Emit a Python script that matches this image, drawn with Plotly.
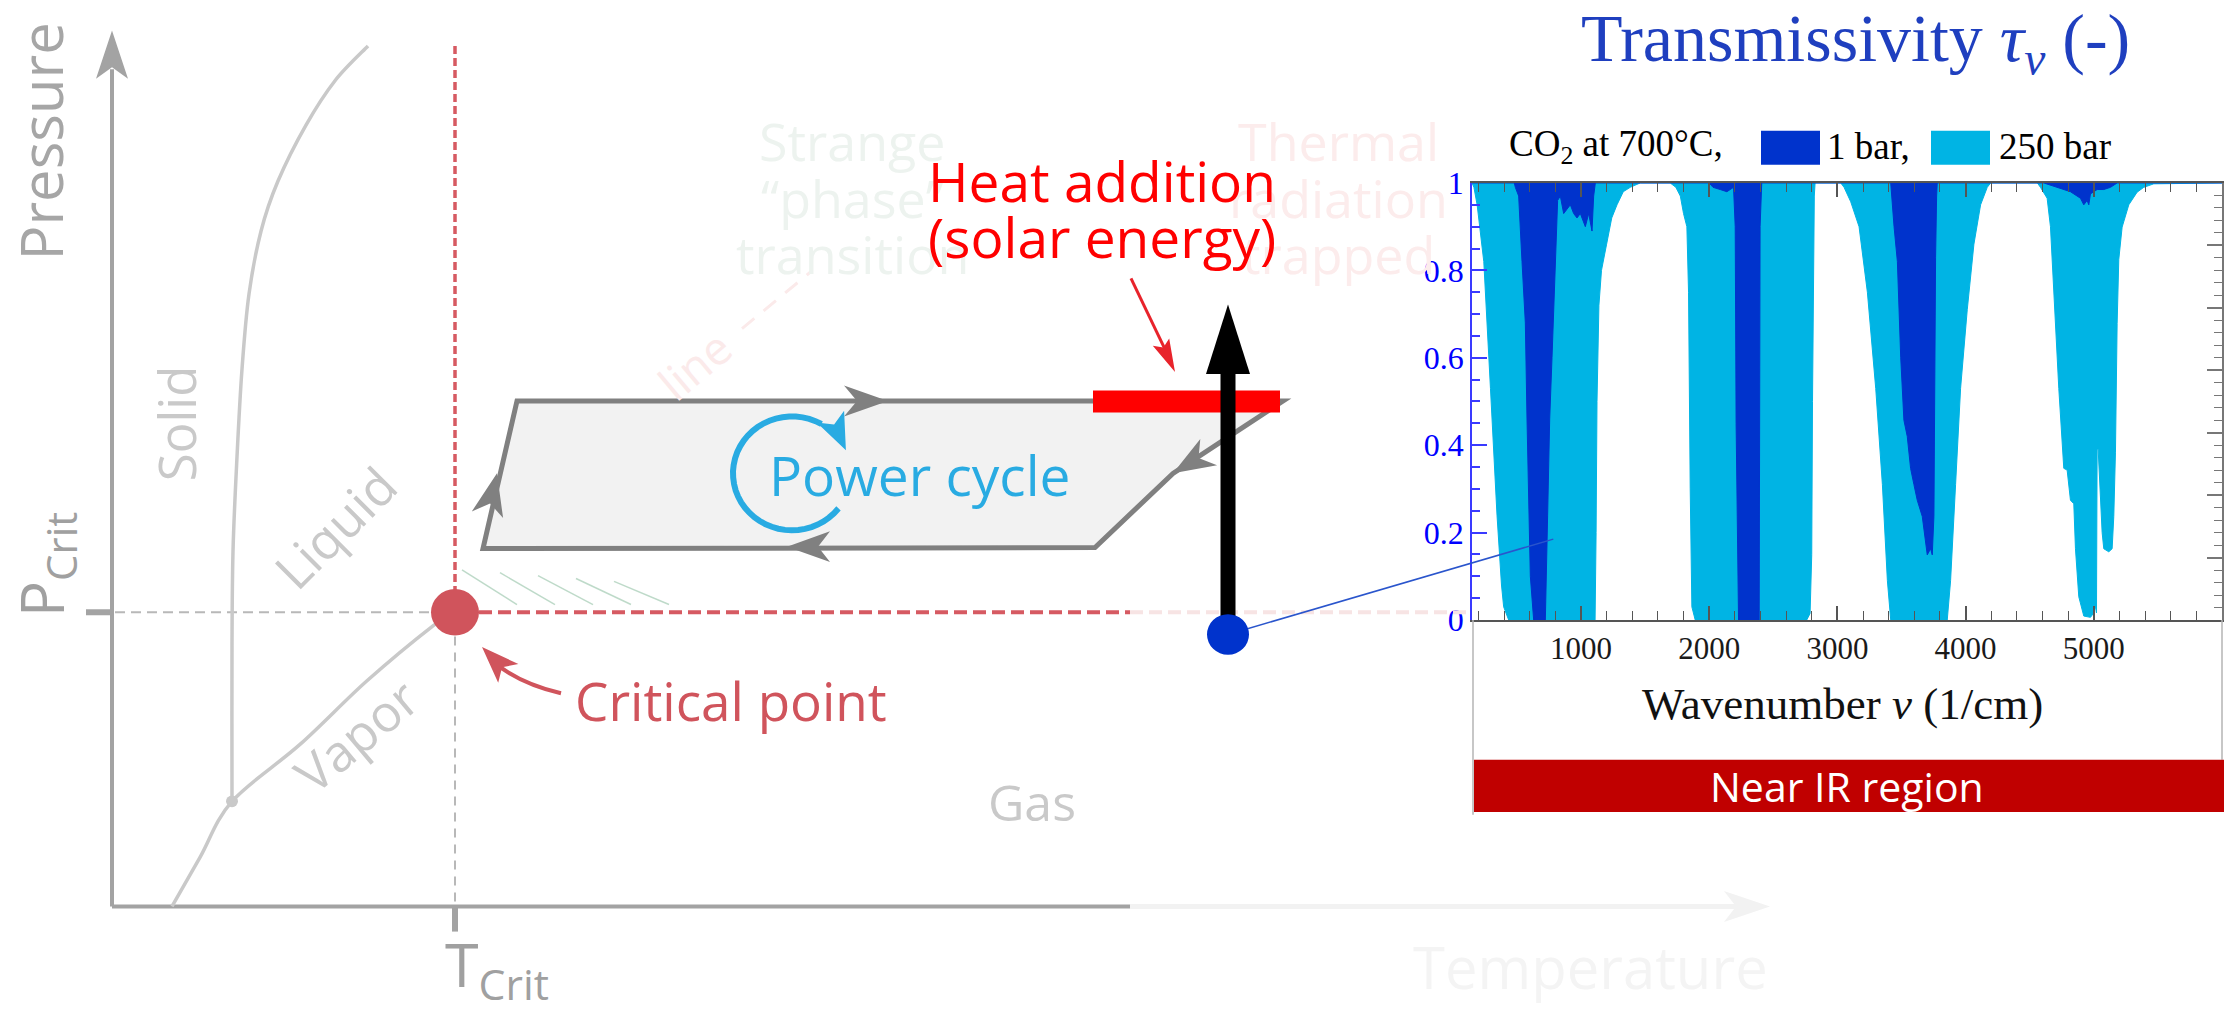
import math
import plotly.graph_objects as go

W, H = 2233, 1020

# ---------------- spectral data ----------------
wavenumber_250bar = [150, 165, 190, 242, 294, 345, 380, 397, 436, 1110, 1118, 1125, 1140, 1160, 1200, 1240, 1281, 1330, 1384, 1462,
                     1696, 1740, 1775, 1800, 1826, 1839, 1852, 1865, 1891, 2761, 2787, 2800, 2806, 2813, 2820, 2826,
                     3026, 3052, 3104, 3169, 3234, 3299, 3351, 3390, 3416, 3857, 3883, 3922, 3961, 4013, 4065, 4117, 4169, 4195,
                     4560, 4584, 4636, 4662, 4688, 4727, 4766, 4792, 4818, 4844, 4857, 4883, 4922, 4974, 5000, 5013, 5021, 5026,
                     5034, 5047, 5065, 5078, 5117, 5143, 5156, 5169, 5182, 5195, 5221, 5273, 5338, 5390, 5468, 6000]
tau_250bar = [1.0, 0.99, 0.95, 0.82, 0.53, 0.24, 0.08, 0.03, 0.0, 0.0, 0.2, 0.5, 0.72, 0.8, 0.86, 0.92, 0.95, 0.98, 0.99, 1.0,
              1.0, 0.99, 0.97, 0.93, 0.9, 0.75, 0.3, 0.03, 0.0, 0.0, 0.015, 0.15, 0.5, 0.9, 0.97, 1.0,
              1.0, 0.99, 0.957, 0.9, 0.75, 0.53, 0.31, 0.09, 0.0, 0.0, 0.09, 0.31, 0.53, 0.71, 0.86, 0.95, 0.99, 1.0,
              1.0, 0.99, 0.965, 0.9, 0.75, 0.53, 0.347, 0.343, 0.274, 0.266, 0.163, 0.053, 0.009, 0.006, 0.016, 0.031, 0.016, 0.391,
              0.391, 0.31, 0.2, 0.163, 0.156, 0.163, 0.237, 0.384, 0.678, 0.825, 0.899, 0.95, 0.979, 0.99, 0.998, 1.0]

wavenumber_1bar = [150, 480, 488, 514, 540, 566, 579, 592, 605, 631, 722, 740, 756, 774, 787, 800, 813, 818, 839, 865,
                   891, 917, 943, 969, 995, 1034, 1060, 1086, 1099, 1112,
                   2000, 2030, 2086, 2138, 2190, 2203, 2210, 2229, 2390, 2392, 2397, 2410,
                   3416, 3442, 3468, 3494, 3519, 3545, 3571, 3597, 3623, 3662, 3701, 3727, 3740, 3753, 3758, 3766, 3774, 3779,
                   4610, 4714, 4818, 4896, 4922, 4948, 4961, 4974, 5026, 5078, 5130, 5182, 6000]
tau_1bar = [1.0, 1.0, 0.99, 0.97, 0.82, 0.68, 0.46, 0.24, 0.1, 0.0, 0.0, 0.24, 0.46, 0.6, 0.71, 0.82, 0.94, 0.96, 0.97, 0.93,
            0.94, 0.95, 0.93, 0.92, 0.93, 0.9, 0.93, 0.89, 0.97, 1.0,
            1.0, 0.99, 0.985, 0.98, 0.99, 0.9, 0.45, 0.0, 0.0, 0.45, 0.9, 1.0,
            1.0, 0.9, 0.82, 0.6, 0.457, 0.42, 0.347, 0.31, 0.274, 0.237, 0.149, 0.163, 0.149, 0.237, 0.6, 0.83, 0.97, 1.0,
            1.0, 0.99, 0.98, 0.965, 0.95, 0.96, 0.95, 0.975, 0.985, 0.985, 0.99, 1.0, 1.0]

x_tick_values = [1000, 2000, 3000, 4000, 5000]
x_tick_labels = ["1000", "2000", "3000", "4000", "5000"]
y_tick_values = [0, 0.2, 0.4, 0.6, 0.8, 1.0]
y_tick_labels = ["0", "0.2", "0.4", "0.6", "0.8", "1"]
right_tick_values = [k / 7 for k in range(8)]
x_range = [150, 6000]
probe_point = (784, 0.185)   # where the connector meets the spectrum

# ---------------- diagram geometry (page pixels, y down) ----------------
plot_box = (1472, 171, 2222, 624)   # left, top, right, bottom of spectrum axes
axis_origin = (112, 921)
y_arrow_tip = 13
x_axis_solid_end = 1130
x_arrow_tip = 1770
crit_point = (455, 616)
crit_r = 24
triple_point = (232, 812)
melting_x = [232, 232, 233, 237, 242, 249, 261, 278, 306, 335, 368]
melting_y = [812, 651, 553, 455, 364, 286, 221, 169, 111, 65, 29]
vapor_x = [172, 200, 232, 300, 367, 433, 455]
vapor_y = [921, 870, 812, 753, 687, 630, 616]
cycle_x = [483, 517, 1283, 1233, 1173, 1095]
cycle_y = [550, 397, 397, 431, 472, 549]
heat_bar = (1093, 386, 1280, 409)
probe_dot = (1228, 639)
probe_r = 21
black_tip_y = 297
black_head_base = 369
icon_center = (792, 472)
icon_r = 59

GRAY_AX = "#a3a3a3"
PH_TXT = "#c9c9c9"
CRIT = "#d0545c"
CYCLE = "#808080"
SKY = "#29abe2"
DARK = "#0033cc"
LIGHT = "#00b4e4"
SANS = "Open Sans"
SERIF = "Liberation Serif"


def fmt(p):
    return f"{p[0]:.1f},{p[1]:.1f}"


def poly_path(pts, closed=True):
    s = "M " + " L ".join(fmt(p) for p in pts)
    return s + (" Z" if closed else "")


def smooth_path(xs, ys):
    pts = list(zip(xs, ys))
    d = "M " + fmt(pts[0])
    for i in range(len(pts) - 1):
        p0 = pts[i - 1] if i > 0 else pts[i]
        p1, p2 = pts[i], pts[i + 1]
        p3 = pts[i + 2] if i + 2 < len(pts) else p2
        c1 = (p1[0] + (p2[0] - p0[0]) / 6, p1[1] + (p2[1] - p0[1]) / 6)
        c2 = (p2[0] - (p3[0] - p1[0]) / 6, p2[1] - (p3[1] - p1[1]) / 6)
        d += f" C {fmt(c1)} {fmt(c2)} {fmt(p2)}"
    return d


def chevron(tip, direction, length, half_w, notch):
    dx, dy = direction
    n = math.hypot(dx, dy)
    dx, dy = dx / n, dy / n
    px, py = -dy, dx
    bx, by = tip[0] - length * dx, tip[1] - length * dy
    w1 = (bx + half_w * px, by + half_w * py)
    w2 = (bx - half_w * px, by - half_w * py)
    nt = (tip[0] - (length - notch) * dx, tip[1] - (length - notch) * dy)
    return poly_path([tip, w1, nt, w2])


shapes = []


def add_path(path, color=None, width=0, fill=None, dash=None):
    line = dict(color=color if color else "rgba(0,0,0,0)", width=width)
    if dash:
        line["dash"] = dash
    shapes.append(dict(type="path", path=path, xref="x2", yref="y2", layer="above",
                       line=line, fillcolor=fill if fill else "rgba(0,0,0,0)"))


def add_line(p, q, color, width, dash=None):
    line = dict(color=color, width=width)
    if dash:
        line["dash"] = dash
    shapes.append(dict(type="line", x0=p[0], y0=p[1], x1=q[0], y1=q[1], xref="x2", yref="y2",
                       layer="above", line=line))


def add_rect(x0, y0, x1, y1, fill, color=None, width=0):
    shapes.append(dict(type="rect", x0=x0, y0=y0, x1=x1, y1=y1, xref="x2", yref="y2", layer="above",
                       fillcolor=fill, line=dict(color=color if color else "rgba(0,0,0,0)", width=width)))


def add_circle(c, r, fill):
    shapes.append(dict(type="circle", x0=c[0] - r, y0=c[1] - r, x1=c[0] + r, y1=c[1] + r, xref="x2", yref="y2",
                       layer="above", fillcolor=fill, line=dict(color=fill, width=0)))


# faint background pieces
add_line((x_axis_solid_end, axis_origin[1]), (x_arrow_tip - 25, axis_origin[1]), "#f2f2f2", 5)
add_path(chevron((x_arrow_tip, axis_origin[1]), (1, 0), 46, 16, 12), fill="#f2f2f2")
add_line((x_axis_solid_end, crit_point[1]), (1470, crit_point[1]), "#f7e4e4", 4, "13px,6px")
add_line((742, 322), (812, 262), "#fbeaea", 3, "16px,12px")
for k in range(5):
    x0 = 462 + k * 38
    add_line((x0, 572 + k * 3), (x0 + 55, 608), "rgba(70,150,100,0.35)", 1.5)

# phase diagram axes
add_line(axis_origin, (axis_origin[0], y_arrow_tip + 40), GRAY_AX, 4)
add_path(chevron((axis_origin[0], y_arrow_tip), (0, -1), 50, 16, 12), fill=GRAY_AX)
add_line(axis_origin, (x_axis_solid_end, axis_origin[1]), GRAY_AX, 4)
add_line((86, crit_point[1]), (axis_origin[0], crit_point[1]), GRAY_AX, 6)
add_line((crit_point[0], axis_origin[1]), (crit_point[0], 947), GRAY_AX, 6)
add_line((axis_origin[0] + 3, crit_point[1]), (crit_point[0] - 25, crit_point[1]), "#b8b8b8", 2, "10px,6px")
add_line((crit_point[0], crit_point[1] + 25), (crit_point[0], axis_origin[1]), "#b8b8b8", 2, "9px,7px")
add_line((crit_point[0], 29), (crit_point[0], crit_point[1] - 20), "#d65a62", 3.5, "8px,4px")
add_line((crit_point[0] + 24, crit_point[1]), (x_axis_solid_end, crit_point[1]), "#d65a62", 4, "13px,6px")

# phase boundaries
add_path(smooth_path(melting_x, melting_y), color=PH_TXT, width=3.5)
add_path(smooth_path(vapor_x, vapor_y), color=PH_TXT, width=3.5)
add_circle(triple_point, 6, PH_TXT)

# power cycle
add_path(poly_path(list(zip(cycle_x, cycle_y))), color=CYCLE, width=5, fill="#f2f2f2")
lx = (cycle_x[1] - cycle_x[0], cycle_y[1] - cycle_y[0])
add_path(chevron((497, 472), lx, 44, 16, 12), fill=CYCLE)
add_path(chevron((888, cycle_y[1]), (1, 0), 44, 16, 13), fill=CYCLE)
add_path(chevron((787, cycle_y[0] - 2), (-1, 0), 43, 16, 12), fill=CYCLE)
add_path(chevron((1173, 472), (-34, 21), 42, 16, 12), fill=CYCLE)

# power-cycle icon
arc = []
for i in range(41):
    th = math.radians(38 + (300 - 38) * i / 40)
    arc.append((icon_center[0] + icon_r * math.cos(th), icon_center[1] + icon_r * math.sin(th)))
add_path(poly_path(arc, closed=False), color=SKY, width=6)
th = math.radians(-24)
tip = (icon_center[0] + icon_r * math.cos(th), icon_center[1] + icon_r * math.sin(th))
add_path(chevron(tip, (-math.sin(th), math.cos(th)), 38, 15, 9), fill=SKY)

# heat addition bar and arrows
add_rect(*heat_bar, fill="#ff0000")
add_rect(probe_dot[0] - 7.5, black_head_base - 1, probe_dot[0] + 7.5, probe_dot[1], fill="#000000")
add_path(poly_path([(probe_dot[0], black_tip_y), (probe_dot[0] - 22, black_head_base),
                    (probe_dot[0] + 22, black_head_base)]), fill="#000000")
add_line((1131, 270), (1169, 352), "#e8232b", 3)
add_path(chevron((1175, 367), (44, 97), 34, 9, 6), fill="#e8232b")

# critical point + arrow
add_circle(crit_point, crit_r, CRIT)
add_path("M 561,700 Q 520,690 494,668", color=CRIT, width=4)
add_path(chevron((482, 652), (-24, -25), 38, 14, 9), fill=CRIT)

# connector from probe dot to the spectrum
px = plot_box[0] + (probe_point[0] - x_range[0]) / (x_range[1] - x_range[0]) * (plot_box[2] - plot_box[0])
py = plot_box[3] - probe_point[1] * (plot_box[3] - plot_box[1])
add_line(probe_dot, (px, py), "#2a55cc", 1.5)
add_circle(probe_dot, probe_r, DARK)

# spectrum legend and bottom panel
add_rect(1761, 117, 1820, 152, fill=DARK)
add_rect(1931, 117, 1990, 152, fill=LIGHT)
add_line((1473, plot_box[3]), (1473, 826), "#b4b4b4", 1.5)
add_line((2222, plot_box[3]), (2222, 769), "#b4b4b4", 1.5)
add_rect(1474, 769, 2224, 823, fill="#c00000")

annotations = []


def txt(x, y, text, size, color, family=SANS, angle=0, xanchor="center", yanchor="middle"):
    annotations.append(dict(x=x, y=y, xref="x2", yref="y2", text=text, showarrow=False, textangle=angle,
                            xanchor=xanchor, yanchor=yanchor,
                            font=dict(size=size, color=color, family=family)))


# faint background words
for label, yy in [("Strange", 127), ("\u201cphase\u201d", 186), ("transition", 244)]:
    txt(852, yy, label, 52, "#edf3ef")
for label, yy in [("Thermal", 127), ("radiation", 186), ("trapped", 244)]:
    txt(1338, yy, label, 52, "#fcecec")
txt(694, 360, "line", 46, "#fbeaea", angle=-40)
txt(1590, 983, "Temperature", 58, "#f4f4f4")

# phase diagram labels
txt(40, 128, "Pressure", 58, "#a6a6a6", angle=-90)
txt(45, 567, "P<sub>Crit</sub>", 60, "#a0a0a0", angle=-90)
txt(497, 984, "T<sub>Crit</sub>", 61, "#a0a0a0")
txt(176, 420, "Solid", 51, PH_TXT, angle=-90)
txt(335, 528, "Liquid", 51, PH_TXT, angle=-45)
txt(356, 743, "Vapor", 51, PH_TXT, angle=-40)
txt(1032, 813, "Gas", 50, PH_TXT)
txt(731, 707, "Critical point", 53, CRIT)
txt(767, 473, "Power cycle", 55, SKY, xanchor="left")
txt(1102, 168, "Heat addition", 55, "#ff0000")
txt(1102, 226, "(solar energy)", 55, "#ff0000")

# spectrum texts
txt(1855, 25, "Transmissivity <i>\u03c4</i><sub><i>\u03bd</i></sub> (-)", 68, "#1f3fbf", family=SERIF)
txt(1507, 133, "CO<sub>2</sub> at 700\u00b0C,", 37, "#000000", family=SERIF, xanchor="left")
txt(1825, 133, "1 bar,", 37, "#000000", family=SERIF, xanchor="left")
txt(1997, 133, "250 bar", 37, "#000000", family=SERIF, xanchor="left")
txt(1842, 711, "Wavenumber <i>\u03bd</i> (1/cm)", 45, "#111111", family=SERIF)
txt(1847, 796, "Near IR region", 41, "#ffffff")

fig = go.Figure()
fig.add_trace(go.Scatter(x=wavenumber_250bar, y=tau_250bar, mode="lines", fill="toself", fillcolor=LIGHT,
                         line=dict(color=LIGHT, width=1), name="250 bar", hoverinfo="skip", showlegend=False,
                         xaxis="x", yaxis="y"))
fig.add_trace(go.Scatter(x=wavenumber_1bar, y=tau_1bar, mode="lines", fill="toself", fillcolor=DARK,
                         line=dict(color=DARK, width=1), name="1 bar", hoverinfo="skip", showlegend=False,
                         xaxis="x", yaxis="y"))
fig.add_trace(go.Scatter(x=[None], y=[None], xaxis="x", yaxis="y3", showlegend=False, hoverinfo="skip"))
fig.add_trace(go.Scatter(x=[None], y=[None], xaxis="x2", yaxis="y2", showlegend=False, hoverinfo="skip"))

fig.update_layout(
    width=W, height=H, autosize=False,
    margin=dict(l=0, r=0, t=0, b=0, pad=0),
    paper_bgcolor="white", plot_bgcolor="rgba(0,0,0,0)",
    showlegend=False,
    xaxis=dict(domain=[plot_box[0] / W, plot_box[2] / W], range=x_range, anchor="y",
               tickmode="array", tickvals=x_tick_values, ticktext=x_tick_labels,
               ticks="inside", ticklen=14, tickwidth=1.5, tickcolor="#555555",
               minor=dict(tickmode="linear", tick0=0, dtick=200, ticks="inside", ticklen=9,
                          tickwidth=1.2, tickcolor="#555555", showgrid=False),
               showline=True, linecolor="#555555", linewidth=1.5, mirror="ticks",
               showgrid=False, zeroline=False,
               tickfont=dict(family=SERIF, size=31, color="#1a1a1a")),
    yaxis=dict(domain=[1 - plot_box[3] / H, 1 - plot_box[1] / H], range=[0, 1], anchor="x",
               tickmode="array", tickvals=y_tick_values, ticktext=y_tick_labels,
               ticks="inside", ticklen=15, tickwidth=1.5, tickcolor="#3a3aff",
               minor=dict(tickmode="linear", tick0=0, dtick=0.05, ticks="inside", ticklen=8,
                          tickwidth=1.5, tickcolor="#3a3aff", showgrid=False),
               showline=True, linecolor="#3a3aff", linewidth=1.5,
               showgrid=False, zeroline=False,
               tickfont=dict(family=SERIF, size=32, color="#0000ff")),
    yaxis3=dict(overlaying="y", side="right", anchor="x", range=[0, 1],
                tickmode="array", tickvals=right_tick_values, showticklabels=False,
                ticks="inside", ticklen=15, tickwidth=1.5, tickcolor="#777777",
                minor=dict(tickmode="linear", tick0=0, dtick=1 / 35, ticks="inside", ticklen=8,
                           tickwidth=1.2, tickcolor="#777777", showgrid=False),
                showline=True, linecolor="#777777", linewidth=1.5,
                showgrid=False, zeroline=False),
    xaxis2=dict(domain=[0, 1], range=[0, W], anchor="y2", visible=False, fixedrange=True),
    yaxis2=dict(domain=[0, 1], range=[H, 0], anchor="x2", visible=False, fixedrange=True),
    shapes=shapes,
    annotations=annotations,
)

fig.write_html("out.html")
